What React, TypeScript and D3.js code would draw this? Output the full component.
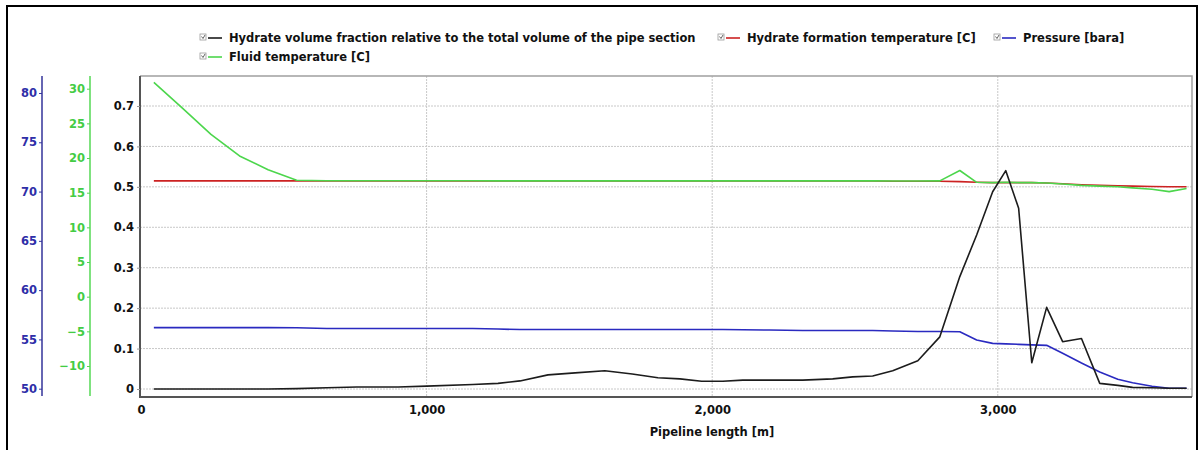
import React, { useEffect, useRef } from 'react';
import * as d3 from 'd3';

// Pipeline profile positions [m]
const lengthM = [
  45, 145, 245, 345, 445, 545, 650, 756, 900, 1000, 1162, 1250, 1327, 1425, 1520,
  1624, 1720, 1810, 1887, 1963, 2037, 2107, 2200, 2317, 2422, 2492, 2562, 2632,
  2720, 2797, 2867, 2926, 2982, 3028, 3073, 3119, 3171, 3227, 3293, 3357, 3420,
  3472, 3540, 3600, 3661,
];

// Hydrate volume fraction [-]
const hydrateFraction = [
  0, 0, 0, 0, 0, 0.001, 0.003, 0.005, 0.005, 0.007, 0.011, 0.014, 0.02, 0.035, 0.04,
  0.045, 0.037, 0.028, 0.025, 0.019, 0.019, 0.022, 0.022, 0.022, 0.025, 0.03, 0.032,
  0.045, 0.07, 0.129, 0.278, 0.381, 0.488, 0.54, 0.447, 0.065, 0.202, 0.117, 0.125,
  0.014, 0.009, 0.004, 0.003, 0.002, 0.002,
];

// Hydrate formation temperature [C]
const hydrateTemp = [
  16.7, 16.7, 16.7, 16.7, 16.7, 16.7, 16.7, 16.7, 16.7, 16.7, 16.7, 16.7, 16.68,
  16.68, 16.68, 16.68, 16.68, 16.68, 16.68, 16.68, 16.68, 16.68, 16.68, 16.68, 16.68,
  16.68, 16.68, 16.65, 16.65, 16.65, 16.6, 16.5, 16.45, 16.45, 16.45, 16.45, 16.4,
  16.3, 16.15, 16.05, 16.0, 15.95, 15.9, 15.85, 15.85,
];

// Pressure [bara]
const pressure = [
  56.2, 56.2, 56.2, 56.2, 56.2, 56.18, 56.1, 56.1, 56.1, 56.1, 56.1, 56.05, 56.0,
  56.0, 56.0, 56.0, 56.0, 56.0, 56.0, 56.0, 56.0, 55.98, 55.95, 55.9, 55.9, 55.9,
  55.9, 55.85, 55.8, 55.8, 55.78, 54.95, 54.6, 54.55, 54.5, 54.45, 54.4, 53.6, 52.6,
  51.7, 50.95, 50.6, 50.25, 50.05, 50.05,
];

// Fluid temperature [C]
const fluidTemp = [
  30.9, 27.2, 23.4, 20.3, 18.3, 16.8, 16.72, 16.72, 16.72, 16.72, 16.72, 16.7, 16.7,
  16.7, 16.7, 16.7, 16.7, 16.7, 16.7, 16.7, 16.7, 16.7, 16.7, 16.7, 16.7, 16.7, 16.7,
  16.68, 16.68, 16.7, 18.2, 16.5, 16.45, 16.5, 16.45, 16.45, 16.4, 16.25, 16.05,
  15.95, 15.85, 15.7, 15.5, 15.15, 15.6,
];

const mainTicks = [0, 0.1, 0.2, 0.3, 0.4, 0.5, 0.6, 0.7];
const tempTicks = [-10, -5, 0, 5, 10, 15, 20, 25, 30];
const pressTicks = [50, 55, 60, 65, 70, 75, 80];
const xTicks = [0, 1000, 2000, 3000];

const legendLabels = [
  'Hydrate volume fraction relative to the total volume of the pipe section',
  'Hydrate formation temperature [C]',
  'Pressure [bara]',
  'Fluid temperature [C]',
];

const FONT = '"DejaVu Sans", Verdana, sans-serif';

const App = () => {
  const ref = useRef(null);

  useEffect(() => {
    const width = 1200;
    const height = 450;
    const plot = { left: 140, right: 1192, top: 76, bottom: 397 };

    const svg = d3
      .select(ref.current)
      .append('svg')
      .attr('width', width)
      .attr('height', height)
      .style('position', 'absolute')
      .style('left', '0px')
      .style('top', '0px')
      .style('font-family', FONT);

    svg.append('rect').attr('width', width).attr('height', height).attr('fill', '#fff');

    // outer frame
    svg
      .append('rect')
      .attr('x', 7)
      .attr('y', 6)
      .attr('width', 1190)
      .attr('height', 470)
      .attr('fill', 'none')
      .attr('stroke', '#000')
      .attr('stroke-width', 2);

    const x = d3.scaleLinear().domain([0, 3680]).range([141, 1192]);
    const yMain = d3.scaleLinear().domain([0, 0.7]).range([389, 106]);
    const yTemp = d3.scaleLinear().domain([-10, 30]).range([366, 88.7]);
    const yPress = d3.scaleLinear().domain([50, 80]).range([388.7, 93]);

    // grid
    const grid = svg.append('g');
    grid
      .selectAll('.hg')
      .data(mainTicks)
      .enter()
      .append('line')
      .attr('x1', plot.left)
      .attr('x2', plot.right)
      .attr('y1', (d) => yMain(d))
      .attr('y2', (d) => yMain(d))
      .attr('stroke', '#c8c8c8')
      .attr('stroke-dasharray', '2,1');
    grid
      .selectAll('.vg')
      .data(xTicks.filter((d) => d > 0))
      .enter()
      .append('line')
      .attr('x1', (d) => x(d))
      .attr('x2', (d) => x(d))
      .attr('y1', plot.top)
      .attr('y2', plot.bottom)
      .attr('stroke', '#c8c8c8')
      .attr('stroke-dasharray', '2,1');

    // plot border
    svg
      .append('path')
      .attr('d', `M${plot.left},${plot.top}H${plot.right}V${plot.bottom}`)
      .attr('fill', 'none')
      .attr('stroke', '#a0a0a0')
      .attr('stroke-width', 1.5);
    svg
      .append('path')
      .attr('d', `M${plot.left},${plot.top}V${plot.bottom}H${plot.right}`)
      .attr('fill', 'none')
      .attr('stroke', '#555')
      .attr('stroke-width', 2);

    // y axes
    const styleAxis = (g, color, textColor) => {
      g.select('.domain').remove();
      g.selectAll('.tick line').attr('stroke', color);
      g.selectAll('.tick text')
        .attr('fill', textColor)
        .attr('font-size', 11.5)
        .attr('font-weight', 'bold')
        .attr('font-family', FONT);
    };

    const mainAxis = svg
      .append('g')
      .attr('transform', `translate(${plot.left},0)`)
      .call(
        d3
          .axisLeft(yMain)
          .tickValues(mainTicks)
          .tickSize(3)
          .tickPadding(3)
          .tickFormat((d) => (d === 0 ? '0' : d3.format('.1f')(d)))
      );
    styleAxis(mainAxis, '#999', '#111');

    const tempAxis = svg
      .append('g')
      .attr('transform', 'translate(90,0)')
      .call(d3.axisLeft(yTemp).tickValues(tempTicks).tickSize(3).tickPadding(2));
    styleAxis(tempAxis, '#55d855', '#44cc44');
    svg
      .append('line')
      .attr('x1', 90)
      .attr('x2', 90)
      .attr('y1', plot.top)
      .attr('y2', plot.bottom - 1)
      .attr('stroke', '#55d855')
      .attr('stroke-width', 1.5);

    const pressAxis = svg
      .append('g')
      .attr('transform', 'translate(42,0)')
      .call(d3.axisLeft(yPress).tickValues(pressTicks).tickSize(3).tickPadding(2));
    styleAxis(pressAxis, '#3a3aa0', '#2e2ea8');
    svg
      .append('line')
      .attr('x1', 42)
      .attr('x2', 42)
      .attr('y1', plot.top)
      .attr('y2', plot.bottom - 1)
      .attr('stroke', '#33339a')
      .attr('stroke-width', 1.5);

    // x axis
    const xAxis = svg
      .append('g')
      .attr('transform', `translate(0,${plot.bottom})`)
      .call(
        d3
          .axisBottom(x)
          .tickValues(xTicks)
          .tickSize(0)
          .tickPadding(9)
          .tickFormat(d3.format(','))
      );
    styleAxis(xAxis, '#999', '#111');

    svg
      .append('text')
      .attr('x', 712)
      .attr('y', 436)
      .attr('text-anchor', 'middle')
      .attr('font-size', 11.5)
      .attr('font-weight', 'bold')
      .attr('fill', '#111')
      .text('Pipeline length [m]');

    // series
    const series = [
      { values: hydrateTemp, y: yTemp, color: '#cc2222' },
      { values: pressure, y: yPress, color: '#2a2ac0' },
      { values: fluidTemp, y: yTemp, color: '#4cd64c' },
      { values: hydrateFraction, y: yMain, color: '#1c1c1c' },
    ];
    series.forEach((s) => {
      const line = d3
        .line()
        .x((d, i) => x(lengthM[i]))
        .y((d) => s.y(d));
      svg
        .append('path')
        .datum(s.values)
        .attr('d', line)
        .attr('fill', 'none')
        .attr('stroke', s.color)
        .attr('stroke-width', 1.6)
        .attr('stroke-linejoin', 'round');
    });

    // legend
    const legendItems = [
      { label: legendLabels[0], color: '#1c1c1c', x: 200, y: 38 },
      { label: legendLabels[1], color: '#cc2222', x: 718, y: 38 },
      { label: legendLabels[2], color: '#2a2ac0', x: 994, y: 38 },
      { label: legendLabels[3], color: '#4cd64c', x: 200, y: 57 },
    ];
    const legend = svg
      .selectAll('.legend')
      .data(legendItems)
      .enter()
      .append('g')
      .attr('transform', (d) => `translate(${d.x},${d.y})`);
    legend
      .append('rect')
      .attr('x', 0)
      .attr('y', -4)
      .attr('width', 6)
      .attr('height', 6)
      .attr('fill', '#fff')
      .attr('stroke', '#999')
      .attr('stroke-width', 0.8);
    legend
      .append('path')
      .attr('d', 'M1.5,-1.5L3,0.5L5,-3')
      .attr('fill', 'none')
      .attr('stroke', '#555')
      .attr('stroke-width', 0.9);
    legend
      .append('line')
      .attr('x1', 8)
      .attr('x2', 22)
      .attr('y1', 0)
      .attr('y2', 0)
      .attr('stroke', (d) => d.color)
      .attr('stroke-width', 1.6);
    legend
      .append('text')
      .attr('x', 29)
      .attr('y', 4)
      .attr('font-size', 11.5)
      .attr('font-weight', 'bold')
      .attr('fill', '#111')
      .text((d) => d.label);

    return () => {
      svg.remove();
    };
  }, []);

  return <div ref={ref}></div>;
};

export default App;
